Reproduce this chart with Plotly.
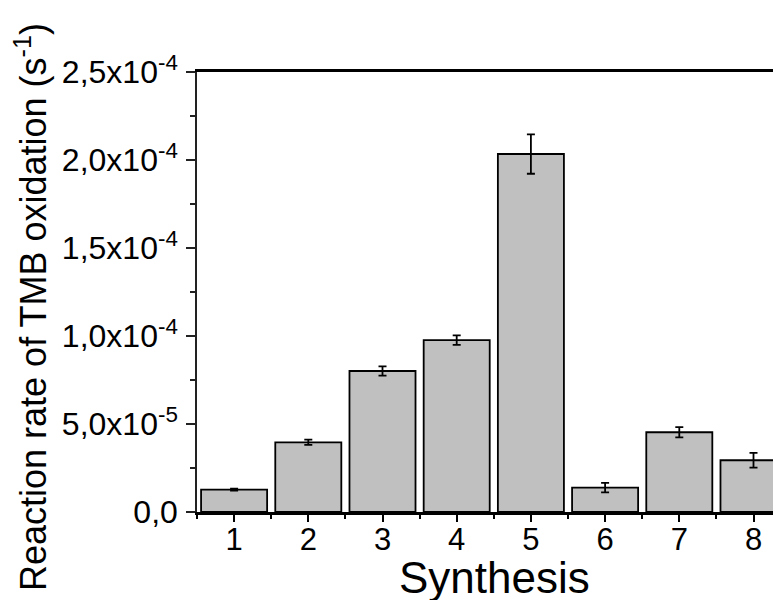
import plotly.graph_objects as go

synthesis = [1, 2, 3, 4, 5, 6, 7, 8]
rates = [1.27e-5, 3.96e-5, 8.01e-5, 9.77e-5, 2.034e-4, 1.38e-5, 4.53e-5, 2.94e-5]
errors = [0.6e-6, 1.5e-6, 2.6e-6, 2.7e-6, 1.12e-5, 2.7e-6, 2.9e-6, 4.2e-6]

y_tickvals = [0, 5e-5, 1e-4, 1.5e-4, 2e-4, 2.5e-4]
y_ticktext = ["0,0", "5,0x10<sup>-5</sup>", "1,0x10<sup>-4</sup>", "1,5x10<sup>-4</sup>",
              "2,0x10<sup>-4</sup>", "2,5x10<sup>-4</sup>"]
x_ticktext = [str(s) for s in synthesis]

FONT = "Liberation Sans, Arial, sans-serif"

# page body has an 8px default margin; target plot box in window pixels
OFF = 8
L, T, B = 197, 72, 512
W, H = 781, 600
plot_w = W - (L - OFF)
plot_h = B - T


def px(xw):
    return (xw - L) / plot_w


def py(yw):
    return (B - yw) / plot_h


fig = go.Figure()
fig.add_trace(go.Bar(
    x=synthesis, y=rates, width=0.89,
    marker=dict(color="#c0c0c0", line=dict(color="black", width=1.8)),
    error_y=dict(type="data", array=errors, visible=True, color="black",
                 thickness=1.8, width=4),
))

fig.update_layout(
    width=W, height=H,
    margin=dict(l=L - OFF, r=0, t=T - OFF, b=H - (T - OFF) - plot_h),
    paper_bgcolor="white", plot_bgcolor="white",
    showlegend=False,
    font=dict(family=FONT, color="black"),
    xaxis=dict(
        range=[0.5, 0.5 + plot_w / 74.2], tickmode="array", tickvals=synthesis,
        ticktext=x_ticktext,
        ticks="outside", ticklen=7, tickwidth=1.5, tickcolor="black",
        minor=dict(tickmode="linear", tick0=0.5, dtick=1, ticks="outside",
                   ticklen=4, tickwidth=1.5, tickcolor="black"),
        showline=True, linecolor="black", linewidth=2.5, mirror=True,
        showgrid=False, zeroline=False,
        tickfont=dict(size=31, family=FONT), ticklabelstandoff=-9,
    ),
    yaxis=dict(
        range=[0, 2.5e-4], tickmode="array", tickvals=y_tickvals, ticktext=y_ticktext,
        ticks="outside", ticklen=9, tickwidth=1.5, tickcolor="#222",
        minor=dict(tickmode="linear", tick0=0, dtick=2.5e-5, ticks="outside",
                   ticklen=5, tickwidth=1.5, tickcolor="#222"),
        showline=True, linecolor="#222", linewidth=1.5,
        showgrid=False, zeroline=False,
        tickfont=dict(size=32, family=FONT), ticklabelstandoff=2,
    ),
    annotations=[
        dict(text="Synthesis", xref="paper", yref="paper",
             x=px(494), y=py(577),
             xanchor="center", yanchor="middle", showarrow=False,
             font=dict(size=44, family=FONT, color="black")),
        dict(text="Reaction rate of TMB oxidation (s<sup>-1</sup>)", xref="paper", yref="paper",
             x=px(31), y=py(307), textangle=-90,
             xanchor="center", yanchor="middle", showarrow=False,
             font=dict(size=36, family=FONT, color="black")),
    ],
)

fig.write_html("out.html")
